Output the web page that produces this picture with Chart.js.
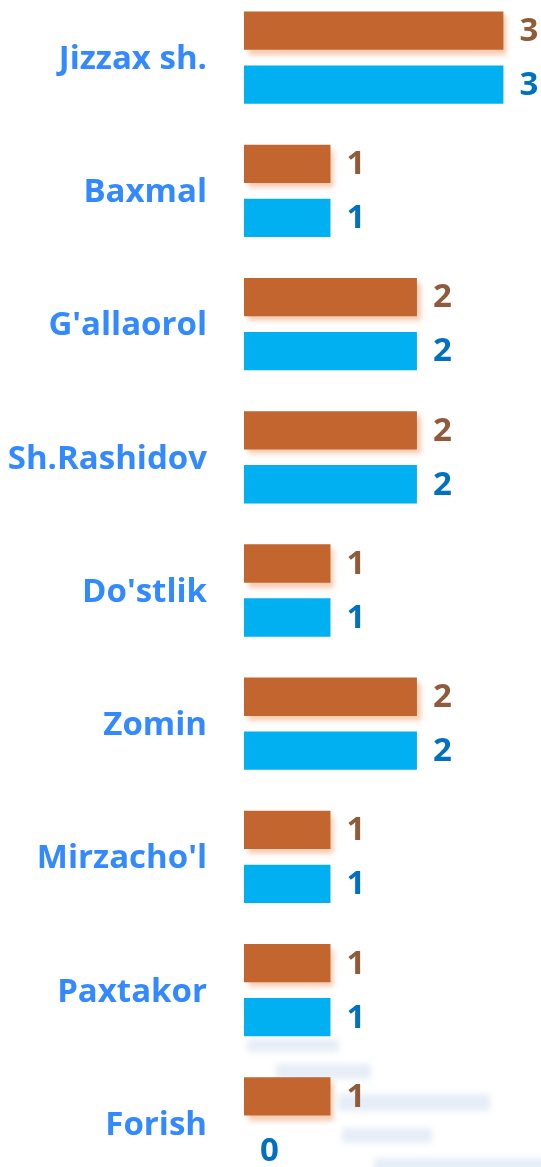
<!DOCTYPE html>
<html>
<head>
<meta charset="utf-8">
<script src="https://cdn.jsdelivr.net/npm/chart.js@4"></script>
<style>
  html, body { margin: 0; padding: 0; background: #fff; overflow: hidden; }
  #districtChart { position: absolute; left: 0; top: -9px; }
</style>
</head>
<body>
<canvas id="districtChart" width="541" height="1199"></canvas>
<script>
// Chart data
const districts = ['Jizzax sh.', 'Baxmal', "G'allaorol", 'Sh.Rashidov', "Do'stlik", 'Zomin', "Mirzacho'l", 'Paxtakor', 'Forish']
const seriesOrange = [3, 1, 2, 2, 1, 2, 1, 1, 1]
const seriesBlue = [3, 1, 2, 2, 1, 2, 1, 1, 0]

const FONT = '"Open Sans", "Noto Sans", sans-serif'

// Faint blurred streaks near the bottom of the original picture
const streaks = {
  id: 'streaks',
  beforeDatasetsDraw(chart) {
    const c = chart.ctx
    c.save()
    c.filter = 'blur(3px)'
    c.fillStyle = 'rgba(222, 231, 243, 0.75)'
    ;[
      [247, 1048, 92, 13],
      [276, 1073, 95, 15],
      [338, 1103, 152, 17],
      [342, 1137, 90, 15],
      [374, 1167, 175, 14]
    ].forEach(([x, y, w, h]) => c.fillRect(x, y, w, h))
    c.restore()
  }
}

// Soft shadow under the orange bars
const barShadow = {
  id: 'barShadow',
  beforeDatasetDraw(chart, args) {
    chart.ctx.save()
    if (args.index !== 0) return
    const c = chart.ctx
    c.shadowColor = 'rgba(232, 140, 80, 0.45)'
    c.shadowBlur = 5
    c.shadowOffsetX = 4
    c.shadowOffsetY = 5
  },
  afterDatasetDraw(chart) {
    chart.ctx.restore()
  }
}

// Value labels to the right of each bar
const valueLabels = {
  id: 'valueLabels',
  afterDatasetsDraw(chart) {
    const c = chart.ctx
    c.save()
    c.font = 'bold 33px ' + FONT
    c.textAlign = 'left'
    c.textBaseline = 'middle'
    chart.data.datasets.forEach((ds, i) => {
      const meta = chart.getDatasetMeta(i)
      meta.data.forEach((bar, j) => {
        c.fillStyle = ds.labelColor
        c.fillText(String(ds.data[j]), bar.x + 16, bar.y + 1)
      })
    })
    c.restore()
  }
}

const ctx = document.getElementById('districtChart').getContext('2d')
new Chart(ctx, {
  type: 'bar',
  data: {
    labels: districts,
    datasets: [
      {
        data: seriesOrange,
        backgroundColor: '#C3652E',
        labelColor: '#8F5B3A'
      },
      {
        data: seriesBlue,
        backgroundColor: '#00B0F0',
        labelColor: '#0070C0'
      }
    ]
  },
  options: {
    indexAxis: 'y',
    responsive: false,
    animation: false,
    datasets: {
      bar: {
        categoryPercentage: 0.81,
        barPercentage: 0.71
      }
    },
    layout: { padding: { right: 3 } },
    plugins: {
      legend: { display: false },
      tooltip: { enabled: false }
    },
    scales: {
      x: {
        display: false,
        min: 0,
        max: 3.4
      },
      y: {
        grid: { display: false, drawTicks: false },
        border: { display: false },
        ticks: {
          color: '#3389FF',
          padding: 37,
          labelOffset: 2,
          font: { family: FONT, size: 33, weight: 'bold' }
        },
        afterFit(scale) {
          scale.width = 244
          scale.paddingTop = 0
          scale.paddingBottom = 0
        }
      }
    }
  },
  plugins: [streaks, barShadow, valueLabels]
})
</script>
</body>
</html>
